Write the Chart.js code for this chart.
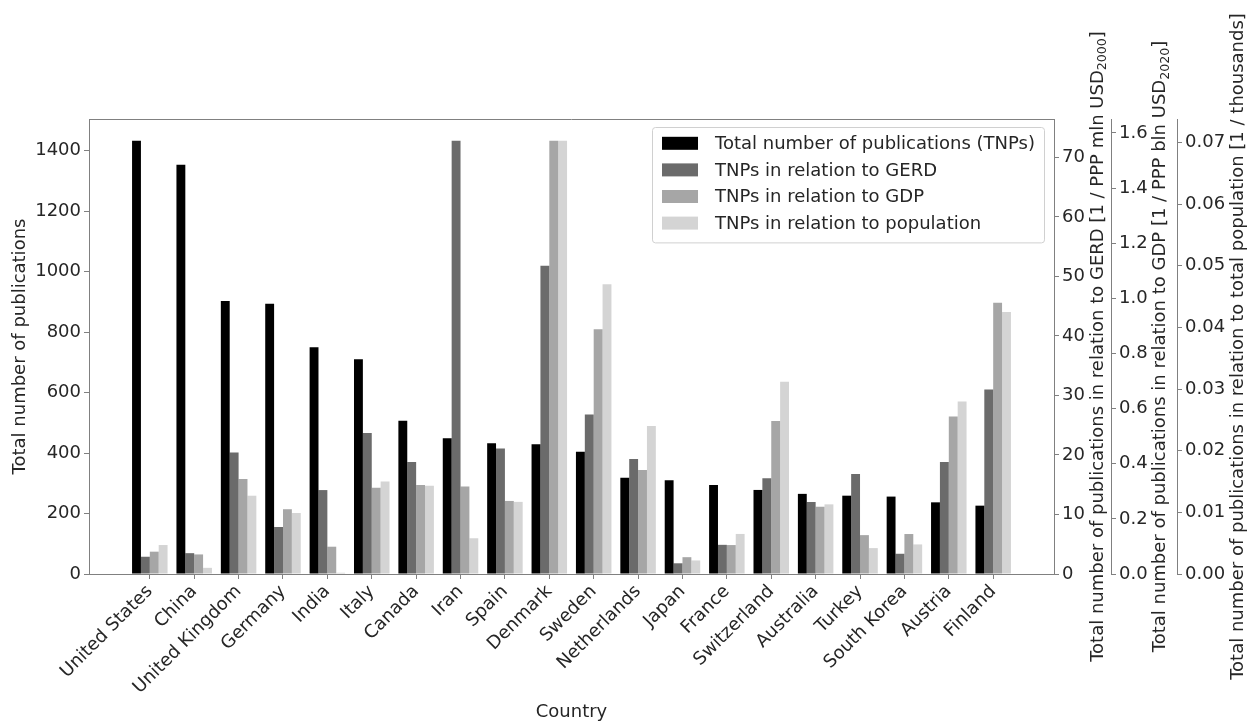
<!DOCTYPE html>
<html>
<head>
<meta charset="utf-8">
<title>Publications by country</title>
<script src="https://cdn.jsdelivr.net/npm/chart.js@4.4.1/dist/chart.umd.min.js"></script>
<style>
  html, body { margin: 0; padding: 0; background: #ffffff; }
  canvas { display: block; }
</style>
</head>
<body>
<canvas id="chart" width="1251" height="723"></canvas>
<script>
// Countries, in descending order of total publications
const countries = [
  'United States', 'China', 'United Kingdom', 'Germany', 'India', 'Italy', 'Canada',
  'Iran', 'Spain', 'Denmark', 'Sweden', 'Netherlands', 'Japan', 'France',
  'Switzerland', 'Australia', 'Turkey', 'South Korea', 'Austria', 'Finland'
];

// Total number of publications (TNPs)
const tnp = [1433, 1353, 903, 894, 750, 710, 507, 449, 432, 429, 404, 318, 310, 294, 278, 265, 259, 256, 237, 226];

// TNPs in relation to GERD [1 / PPP mln USD2000]
const tnpPerGerd = [2.9, 3.5, 20.4, 7.9, 14.1, 23.7, 18.8, 72.8, 21.1, 51.8, 26.8, 19.3, 1.8, 4.9, 16.1, 12.1, 16.8, 3.4, 18.8, 31.0];

// TNPs in relation to GDP [1 / PPP bln USD2020]
const tnpPerGdp = [0.081, 0.071, 0.345, 0.235, 0.099, 0.313, 0.323, 0.317, 0.265, 1.572, 0.888, 0.377, 0.061, 0.105, 0.555, 0.244, 0.141, 0.145, 0.571, 0.984];

// TNPs in relation to total population [1 / thousands]
const tnpPerPop = [0.0047, 0.0010, 0.0127, 0.0099, 0.0002, 0.0150, 0.0143, 0.0058, 0.0117, 0.0703, 0.0470, 0.0240, 0.0022, 0.0065, 0.0312, 0.0113, 0.0042, 0.0048, 0.0280, 0.0425];

const seriesLabels = [
  'Total number of publications (TNPs)',
  'TNPs in relation to GERD',
  'TNPs in relation to GDP',
  'TNPs in relation to population'
];
const seriesColors = ['#000000', '#6b6b6b', '#a6a6a6', '#d4d4d4'];

// Tick values of the four value axes
const tnpTicks = [0, 200, 400, 600, 800, 1000, 1200, 1400];
const gerdTicks = [0, 10, 20, 30, 40, 50, 60, 70];
const gdpTicks = [0, 0.2, 0.4, 0.6, 0.8, 1.0, 1.2, 1.4, 1.6];
const popTicks = [0, 0.01, 0.02, 0.03, 0.04, 0.05, 0.06, 0.07];

// Axis titles; right-hand titles are split around their subscript
const xTitle = 'Country';
const leftTitle = 'Total number of publications';
const rightTitles = {
  y1: ['Total number of publications in relation to GERD [1 / PPP mln USD', '2000', ']'],
  y2: ['Total number of publications in relation to GDP [1 / PPP bln USD', '2020', ']'],
  y3: ['Total number of publications in relation to total population [1 / thousands]', '', '']
};

const FAMILY = "'DejaVu Sans', 'Noto Sans', sans-serif";
const FONT = { family: FAMILY, size: 18 };
const TEXT = '#262626';
const EDGE = '#808080';
const MARGIN = 1.05;   // headroom above the tallest bar of each axis
const X_PAD = 1.37;    // empty room left and right of the outer groups

const toTicks = arr => s => { s.ticks = arr.map(v => ({ value: v })); };

function valueAxis(position, ticks, data, fmt, width, weight) {
  return {
    type: 'linear',
    position,
    weight,
    min: 0,
    max: MARGIN * Math.max(...data),
    afterBuildTicks: toTicks(ticks),
    afterFit: s => { s.width = width; },
    ticks: { font: FONT, color: TEXT, padding: 3, callback: fmt },
    grid: { drawOnChartArea: false, drawTicks: true, tickLength: 5, color: EDGE },
    border: { display: true, color: EDGE, width: 1 }
  };
}

// Frame line along the top of the plotting area
const frameTop = {
  id: 'frameTop',
  afterDatasetsDraw(chart) {
    const { ctx, chartArea: a } = chart;
    ctx.save();
    ctx.strokeStyle = EDGE;
    ctx.lineWidth = 1;
    ctx.beginPath();
    ctx.moveTo(a.left, a.top + 0.5);
    ctx.lineTo(a.right, a.top + 0.5);
    ctx.stroke();
    ctx.restore();
  }
};

// Vertical titles of the right-hand axes, reading bottom to top, with subscripts
const rightAxisTitles = {
  id: 'rightAxisTitles',
  afterDraw(chart) {
    const { ctx, chartArea: a } = chart;
    const cy = (a.top + a.bottom) / 2;
    ctx.save();
    ctx.fillStyle = TEXT;
    ctx.textBaseline = 'middle';
    ctx.textAlign = 'left';
    const big = '18px ' + FAMILY;
    const small = '12.6px ' + FAMILY;
    for (const id of Object.keys(rightTitles)) {
      const scale = chart.scales[id];
      const [head, sub, tail] = rightTitles[id];
      ctx.font = big;
      let widest = 0;
      for (const t of scale.ticks) widest = Math.max(widest, ctx.measureText(t.label).width);
      const x = scale.left + 5 + 3 + widest + 13;
      const wHead = ctx.measureText(head).width;
      const wTail = ctx.measureText(tail).width;
      ctx.font = small;
      const wSub = ctx.measureText(sub).width;
      const total = wHead + wSub + wTail;
      ctx.save();
      ctx.translate(x, cy);
      ctx.rotate(-Math.PI / 2);
      let p = -total / 2;
      ctx.font = big;
      ctx.fillText(head, p, 0);
      p += wHead;
      ctx.font = small;
      ctx.fillText(sub, p, 5);
      p += wSub;
      ctx.font = big;
      ctx.fillText(tail, p, 0);
      ctx.restore();
    }
    ctx.restore();
  }
};

// Framed legend in the upper right corner of the plotting area
const boxLegend = {
  id: 'boxLegend',
  afterDraw(chart) {
    const { ctx, chartArea: a } = chart;
    const sets = chart.data.datasets;
    ctx.save();
    ctx.font = '18px ' + FAMILY;
    let textW = 0;
    for (const d of sets) textW = Math.max(textW, ctx.measureText(d.label).width);
    const padL = 10, swW = 36, swH = 13, gap = 17, padR = 9, rowH = 26.6, padT = 3, padB = 6;
    const w = padL + swW + gap + textW + padR;
    const h = padT + rowH * sets.length + padB;
    const x0 = a.right - 10 - w;
    const y0 = a.top + 8;
    ctx.fillStyle = 'rgba(255,255,255,0.85)';
    ctx.strokeStyle = '#d0d0d0';
    ctx.lineWidth = 1;
    ctx.beginPath();
    ctx.roundRect(x0 + 0.5, y0 + 0.5, w, h, 3);
    ctx.fill();
    ctx.stroke();
    ctx.textBaseline = 'middle';
    ctx.textAlign = 'left';
    sets.forEach((d, i) => {
      const cy = y0 + padT + rowH * (i + 0.5);
      ctx.fillStyle = d.backgroundColor;
      ctx.fillRect(x0 + padL, cy - swH / 2, swW, swH);
      ctx.fillStyle = TEXT;
      ctx.fillText(d.label, x0 + padL + swW + gap, cy + 1);
    });
    ctx.restore();
  }
};

const axisIds = ['y', 'y1', 'y2', 'y3'];
const seriesData = [tnp, tnpPerGerd, tnpPerGdp, tnpPerPop];

const datasets = seriesData.map((vals, k) => ({
  label: seriesLabels[k],
  data: vals.map((v, i) => ({ x: i, y: v })),
  backgroundColor: seriesColors[k],
  borderWidth: 0,
  yAxisID: axisIds[k],
  categoryPercentage: 0.8,
  barPercentage: 1.0
}));

new Chart(document.getElementById('chart'), {
  type: 'bar',
  data: { datasets },
  options: {
    responsive: false,
    devicePixelRatio: 1,
    animation: false,
    layout: { padding: { top: 119, left: 0, right: 0, bottom: 0 } },
    plugins: { legend: { display: false }, tooltip: { enabled: false } },
    scales: {
      x: {
        type: 'linear',
        offset: false,
        min: -X_PAD,
        max: countries.length - 1 + X_PAD,
        afterBuildTicks: toTicks(countries.map((_, i) => i)),
        afterFit: s => { s.height = 149; },
        ticks: {
          autoSkip: false, minRotation: 45, maxRotation: 45,
          font: FONT, color: TEXT, padding: 2,
          callback: v => countries[v] !== undefined ? countries[v] : ''
        },
        grid: { drawOnChartArea: false, drawTicks: true, tickLength: 5, color: EDGE, offset: false },
        border: { display: true, color: EDGE, width: 1 },
        title: { display: true, text: xTitle, font: FONT, color: TEXT, padding: { top: 4, bottom: 0 } }
      },
      y: Object.assign(valueAxis('left', tnpTicks, tnp, v => String(v), 89, 0), {
        title: { display: true, text: leftTitle, font: FONT, color: TEXT, padding: { top: 10, bottom: 0 } }
      }),
      y1: valueAxis('right', gerdTicks, tnpPerGerd, v => String(v), 57, 0),
      y2: valueAxis('right', gdpTicks, tnpPerGdp, v => v.toFixed(1), 66, 1),
      y3: valueAxis('right', popTicks, tnpPerPop, v => v.toFixed(2), 74, 2)
    }
  },
  plugins: [frameTop, rightAxisTitles, boxLegend]
});
</script>
</body>
</html>
